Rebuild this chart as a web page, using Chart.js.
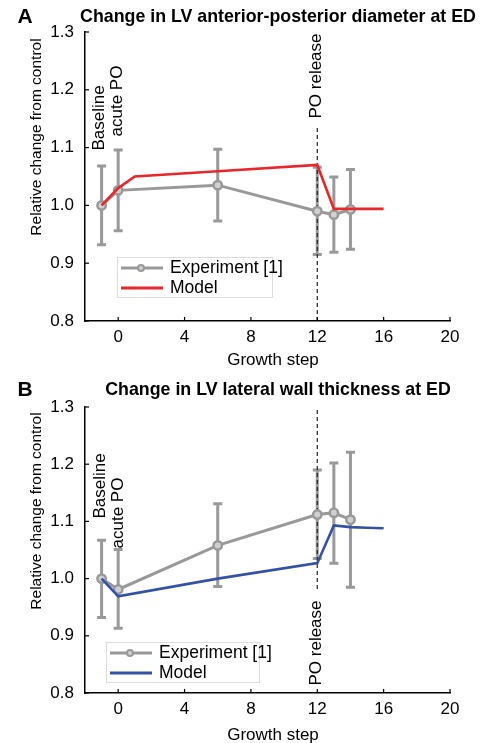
<!DOCTYPE html>
<html>
<head>
<meta charset="utf-8">
<script src="https://cdn.jsdelivr.net/npm/chart.js@4"></script>
<style>
html,body{margin:0;padding:0;background:#fff;}
#wrap{position:relative;width:498px;height:743px;overflow:hidden;}
canvas{position:absolute;left:0;}
</style>
</head>
<body>
<div id="wrap">
<div style="position:absolute;left:0;top:0;width:498px;height:370px;"><canvas id="cA"></canvas></div>
<div style="position:absolute;left:0;top:370px;width:498px;height:373px;"><canvas id="cB"></canvas></div>
</div>
<script>
// ---------- data ----------
const xTicks = [0, 4, 8, 12, 16, 20];
const yTicks = [0.8, 0.9, 1.0, 1.1, 1.2, 1.3];

// Panel A: LV anterior-posterior diameter at ED
const expStepsA = [-1, 0, 6, 12, 13, 14];
const expMeanA  = [1.000, 1.026, 1.035, 0.990, 0.984, 0.993];
const expLowA   = [0.932, 0.956, 0.973, 0.915, 0.919, 0.924];
const expHighA  = [1.068, 1.096, 1.097, 1.066, 1.049, 1.062];
const modelStepsA = [-1, 0, 1, 6, 12, 13, 14, 15, 16];
const modelValsA  = [1.000, 1.030, 1.050, 1.059, 1.070, 0.994, 0.994, 0.994, 0.994];

// Panel B: LV lateral wall thickness at ED
const expStepsB = [-1, 0, 6, 12, 13, 14];
const expMeanB  = [1.000, 0.981, 1.058, 1.112, 1.115, 1.103];
const expLowB   = [0.932, 0.913, 0.986, 1.035, 1.027, 0.985];
const expHighB  = [1.067, 1.051, 1.131, 1.190, 1.202, 1.221];
const modelStepsB = [-1, 0, 6, 12, 13, 14, 15, 16];
const modelValsB  = [1.000, 0.969, 1.000, 1.027, 1.093, 1.090, 1.089, 1.088];

const GRAY = '#999999';
const RED = '#e8262b';
const BLUE = '#3551a6';
const FONT = "'Liberation Sans', Arial, Helvetica, sans-serif";

function pts(xs, ys){ return xs.map((x,i)=>({x:x, y:ys[i]})); }

function makeChart(id, cfg){
  const errPlugin = {
    id:'errbars',
    beforeDatasetsDraw(chart){
      const ctx = chart.ctx, xs = chart.scales.x, ys = chart.scales.y;
      ctx.save();
      ctx.strokeStyle = GRAY; ctx.lineWidth = 3; ctx.lineCap='butt';
      cfg.expSteps.forEach((s,i)=>{
        const px = xs.getPixelForValue(s);
        const lo = ys.getPixelForValue(cfg.expLow[i]);
        const hi = ys.getPixelForValue(cfg.expHigh[i]);
        ctx.beginPath();
        ctx.moveTo(px, lo); ctx.lineTo(px, hi);
        ctx.moveTo(px-4.5, lo); ctx.lineTo(px+4.5, lo);
        ctx.moveTo(px-4.5, hi); ctx.lineTo(px+4.5, hi);
        ctx.stroke();
      });
      // dashed release line
      const rx = xs.getPixelForValue(cfg.releaseStep);
      ctx.strokeStyle = '#222'; ctx.lineWidth = 1.2; ctx.setLineDash([4,3]);
      ctx.beginPath(); ctx.moveTo(rx, cfg.dashTop); ctx.lineTo(rx, cfg.dashBottom != null ? cfg.dashBottom : chart.chartArea.bottom); ctx.stroke();
      ctx.restore();
    },
    afterDraw(chart){
      const ctx = chart.ctx, xs = chart.scales.x, ys = chart.scales.y, ca = chart.chartArea;
      ctx.save();
      // inward ticks
      ctx.strokeStyle = '#000'; ctx.lineWidth = 1.2;
      xTicks.forEach(v=>{ const p = xs.getPixelForValue(v); ctx.beginPath(); ctx.moveTo(p, ca.bottom); ctx.lineTo(p, ca.bottom-4); ctx.stroke(); });
      yTicks.forEach(v=>{ const p = ys.getPixelForValue(v); ctx.beginPath(); ctx.moveTo(ca.left, p); ctx.lineTo(ca.left+4, p); ctx.stroke(); });
      // title & panel letter
      ctx.fillStyle = '#000'; ctx.textBaseline = 'middle';
      ctx.font = "bold 17.8px " + FONT; ctx.textAlign = 'center';
      ctx.fillText(cfg.title, 278, cfg.titleY);
      ctx.font = "bold 21px " + FONT; ctx.textAlign = 'center';
      ctx.fillText(cfg.letter, 25, cfg.titleY);
      // axis titles
      ctx.font = "17px " + FONT;
      ctx.fillText('Growth step', 273, ca.bottom + cfg.xLabelOff);
      ctx.save(); ctx.translate(37, cfg.yLabelY); ctx.rotate(-Math.PI/2);
      ctx.font = "15.5px " + FONT; ctx.fillText('Relative change from control', 0, 0); ctx.restore();
      // rotated annotations
      cfg.notes.forEach(n=>{
        ctx.save(); ctx.translate(n.x, n.y); ctx.rotate(-Math.PI/2);
        ctx.font = "17px " + FONT; ctx.textAlign='center'; ctx.fillText(n.t, 0, 0); ctx.restore();
      });
      // legend
      const L = cfg.legend;
      ctx.fillStyle = '#fff'; ctx.fillRect(L.x, L.y, L.w, L.h);
      ctx.strokeStyle = '#dcdcdc'; ctx.lineWidth = 1; ctx.strokeRect(L.x+0.5, L.y+0.5, L.w, L.h);
      const r1 = L.y + 11, r2 = L.y + 31;
      ctx.lineWidth = 3; ctx.strokeStyle = GRAY;
      ctx.beginPath(); ctx.moveTo(L.x+4, r1); ctx.lineTo(L.x+46, r1); ctx.stroke();
      ctx.lineWidth = 2; ctx.fillStyle = '#d0d0d0';
      ctx.beginPath(); ctx.arc(L.x+24, r1, 3, 0, Math.PI*2); ctx.fill(); ctx.stroke();
      ctx.lineWidth = 3; ctx.strokeStyle = cfg.modelColor;
      ctx.beginPath(); ctx.moveTo(L.x+4, r2); ctx.lineTo(L.x+46, r2); ctx.stroke();
      ctx.fillStyle = '#000'; ctx.textAlign = 'left'; ctx.font = "17.5px " + FONT;
      ctx.fillText('Experiment [1]', L.x+53, r1);
      ctx.fillText('Model', L.x+53, r2);
      ctx.restore();
    }
  };
  return new Chart(document.getElementById(id), {
    type:'line',
    data:{ datasets:[
      { label:'Model', data: pts(cfg.modelSteps, cfg.modelVals), borderColor: cfg.modelColor, borderWidth: 2.6,
        pointRadius:0, tension:0, fill:false },
      { label:'Experiment [1]', data: pts(cfg.expSteps, cfg.expMean), borderColor: GRAY, borderWidth: 3,
        pointRadius:4.2, pointBorderWidth:2.5, pointBorderColor: GRAY, pointBackgroundColor:'#d0d0d0', tension:0, fill:false }
    ]},
    options:{
      responsive:true, maintainAspectRatio:false, animation:false,
      events:[],
      layout:{ padding:{ top: cfg.padTop, right:48, left:0, bottom:0 } },
      plugins:{ legend:{display:false}, tooltip:{enabled:false}, title:{display:false} },
      scales:{
        x:{ type:'linear', min:-2, max:20,
            afterBuildTicks(s){ s.ticks = xTicks.map(v=>({value:v})); },
            afterFit(s){ s.height = cfg.xAxisH; },
            grid:{display:false}, border:{display:true, color:'#000', width:1.5},
            ticks:{ font:{family:FONT, size:17}, color:'#000', padding:-2, maxRotation:0, autoSkip:false,
                    callback:(v)=>String(v) } },
        y:{ type:'linear', min:0.8, max:1.3,
            afterBuildTicks(s){ s.ticks = yTicks.map(v=>({value:v})); },
            afterFit(s){ s.width = 85; },
            grid:{display:false}, border:{display:true, color:'#000', width:1.5},
            ticks:{ font:{family:FONT, size:17}, color:'#000', padding:3, autoSkip:false,
                    callback:(v)=>Number(v).toFixed(1) } }
      }
    },
    plugins:[errPlugin]
  });
}

makeChart('cA', {
  expSteps:expStepsA, expMean:expMeanA, expLow:expLowA, expHigh:expHighA,
  modelSteps:modelStepsA, modelVals:modelValsA, modelColor:RED,
  releaseStep:12, dashTop:128, dashBottom:null,
  title:'Change in LV anterior-posterior diameter at ED', letter:'A', titleY:17,
  yLabelY:137, padTop:32, xAxisH:49, xLabelOff:39,
  notes:[{t:'Baseline', x:99, y:118},{t:'acute PO', x:117, y:101},{t:'PO release', x:316, y:76}],
  legend:{x:117, y:257, w:155, h:40}
});
makeChart('cB', {
  expSteps:expStepsB, expMean:expMeanB, expLow:expLowB, expHigh:expHighB,
  modelSteps:modelStepsB, modelVals:modelValsB, modelColor:BLUE,
  releaseStep:12, dashTop:40, dashBottom:222,
  title:'Change in LV lateral wall thickness at ED', letter:'B', titleY:20,
  yLabelY:141, padTop:37, xAxisH:50, xLabelOff:42,
  notes:[{t:'Baseline', x:100, y:116},{t:'acute PO', x:118, y:143},{t:'PO release', x:316, y:273}],
  legend:{x:106, y:272, w:153, h:40}
});
</script>
</body>
</html>
